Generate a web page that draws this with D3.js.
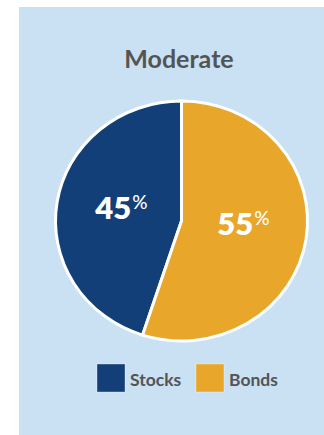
<!DOCTYPE html>
<html>
<head>
<meta charset="utf-8">
<script src="https://cdn.jsdelivr.net/npm/d3@7"></script>
<style>
  html, body { margin: 0; padding: 0; background: #ffffff; }
  svg { display: block; }
  text { font-family: Lato, "Open Sans", sans-serif; font-weight: 700; }
</style>
</head>
<body>
<svg id="chart" width="324" height="435"></svg>
<script>
// Allocation for the moderate portfolio
const title = "Moderate";
const categories = ["Stocks", "Bonds"];
const values = [45, 55];
const colors = ["#123f77", "#e8a72b"];

const svg = d3.select("#chart");
const W = 324, H = 435;

// panel background
svg.append("rect")
  .attr("x", 19).attr("y", 7)
  .attr("width", W - 19).attr("height", H - 7)
  .attr("fill", "#cae0f3");

svg.append("text")
  .attr("x", 179).attr("y", 68)
  .attr("text-anchor", "middle")
  .attr("font-size", 25)
  .attr("font-weight", 800)
  .attr("fill", "#545454")
  .text(title);

// pie, slightly wider than tall
const cx = 181.5, cy = 221, rx = 126, ry = 120;
const data = categories.map((c, i) => ({ name: c, value: values[i], color: colors[i] }));

const pie = d3.pie().value(d => d.value).sort(null)
  .startAngle(-2 * Math.PI * values[0] / 100).endAngle(2 * Math.PI - 2 * Math.PI * values[0] / 100);
const arcs = pie(data);
const arc = d3.arc().innerRadius(0).outerRadius(1);

const g = svg.append("g").attr("transform", `translate(${cx},${cy})`);
const pieG = g.append("g").attr("transform", `scale(${rx},${ry})`);
pieG.selectAll("path").data(arcs).join("path")
  .attr("d", arc)
  .attr("fill", d => d.data.color)
  .attr("stroke", "#ffffff")
  .attr("stroke-width", 3)
  .attr("vector-effect", "non-scaling-stroke");

// value labels: number plus raised percent sign
const labelPos = [[-60, -2], [62, 14]];
arcs.forEach((d, i) => {
  const t = g.append("text")
    .attr("x", labelPos[i][0]).attr("y", labelPos[i][1])
    .attr("text-anchor", "middle")
    .attr("fill", "#ffffff");
  t.append("tspan").attr("font-size", 31).attr("font-weight", 800).text(d.data.value);
  t.append("tspan").attr("font-size", 19).attr("font-weight", 500)
    .attr("dy", -10).attr("dx", 1).text("%");
});

// legend
const legendX = [97, 196];
const lg = svg.append("g");
data.forEach((d, i) => {
  lg.append("rect")
    .attr("x", legendX[i]).attr("y", 364)
    .attr("width", 28).attr("height", 28)
    .attr("fill", d.color)
    .attr("stroke", "#ffffff").attr("stroke-opacity", 0.35).attr("stroke-width", 1);
  lg.append("text")
    .attr("x", legendX[i] + 33).attr("y", 386)
    .attr("font-size", 17.5)
    .attr("fill", "#545454")
    .text(d.name);
});
</script>
</body>
</html>
